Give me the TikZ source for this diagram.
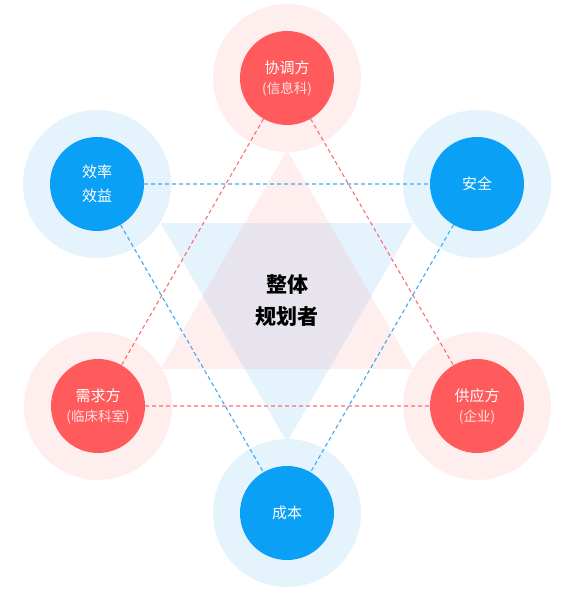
\documentclass[tikz,border=0pt]{standalone}
\usepackage{fontspec}
\usepackage{xcolor}
\usepackage{tikz}
\newfontfamily\cjk{Noto Sans CJK SC}
\definecolor{redmain}{HTML}{FF5A5C}
\definecolor{redpale}{HTML}{FFEEEE}
\definecolor{reddash}{HTML}{FF6B6E}
\definecolor{bluemain}{HTML}{0AA0F5}
\definecolor{bluepale}{HTML}{E5F3FD}
\definecolor{bluedash}{HTML}{3DAAF2}
\definecolor{mixpale}{HTML}{E8E4EE}
\definecolor{subtext}{HTML}{FFE3E3}

\begin{document}
\begin{tikzpicture}[x=1pt,y=-1pt,
    halo/.style={circle, minimum size=148pt, inner sep=0pt},
    core/.style={circle, minimum size=94pt, inner sep=0pt, text=white, align=center, font=\cjk\fontsize{15}{24}\selectfont},
    link/.style={dashed, dash pattern=on 4pt off 3pt, line width=1.1pt}]
    \useasboundingbox (0,0) rectangle (570,594);

    % Triangles
    \fill[redpale] (287,150) -- (160.6,369) -- (413.4,369) -- cycle;
    \fill[bluepale] (160.6,223) -- (413.4,223) -- (287,442) -- cycle;
    \fill[mixpale] (371.3,296) -- (329.2,369) -- (244.8,369) -- (202.7,296) -- (244.8,223) -- (329.2,223) -- cycle;

    % Halos
    \node[halo, fill=redpale] at (287,78) {};
    \node[halo, fill=bluepale] at (97,184) {};
    \node[halo, fill=bluepale] at (477,184) {};
    \node[halo, fill=redpale] at (98,406) {};
    \node[halo, fill=redpale] at (477,406) {};
    \node[halo, fill=bluepale] at (287,513) {};

    % Nodes
    \node[core, fill=redmain] (coord) at (287,78) {协调方\\[-4pt]{\fontsize{13.5}{15}\selectfont\color{subtext}(信息科)}};
    \node[core, fill=bluemain] (effi) at (97,184) {效率\\效益};
    \node[core, fill=bluemain] (safe) at (477,184) {安全};
    \node[core, fill=redmain] (demand) at (98,406) {需求方\\[-4pt]{\fontsize{13.5}{15}\selectfont\color{subtext}(临床科室)}};
    \node[core, fill=redmain] (supply) at (477,406) {供应方\\[-4pt]{\fontsize{13.5}{15}\selectfont\color{subtext}(企业)}};
    \node[core, fill=bluemain] (cost) at (287,513) {成本};
    \node[align=center, font=\cjk\bfseries\fontsize{21}{32}\selectfont] (plan) at (287,301) {整体\\规划者};

    % Edges
    \path[draw,link,reddash]
        (coord) -- (demand)
        (coord) -- (supply)
        (demand) -- (supply);
    \path[draw,link,bluedash]
        (effi) -- (safe)
        (effi) -- (cost)
        (safe) -- (cost);
\end{tikzpicture}
\end{document}
